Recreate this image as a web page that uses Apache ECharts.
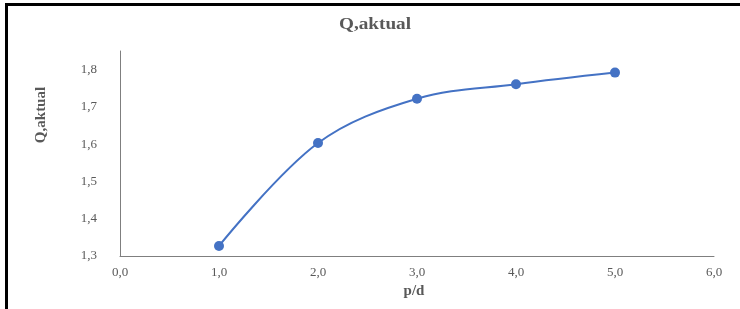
<!DOCTYPE html>
<html>
<head>
<meta charset="utf-8">
<script src="https://cdn.jsdelivr.net/npm/echarts@6/dist/echarts.min.js"></script>
<style>
  html, body { margin: 0; padding: 0; background: #fff; }
  #frame { position: absolute; left: 5px; top: 3px; width: 740px; height: 320px;
           border-left: 3px solid #000; border-top: 3px solid #000; box-sizing: border-box; }
  #chart { position: absolute; left: 0; top: 0; width: 740px; height: 309px; }
</style>
</head>
<body>
<div id="frame"></div>
<div id="chart"></div>
<script>
const xValues = [1.0, 2.0, 3.0, 4.0, 5.0];
const qAktual = [1.327, 1.603, 1.722, 1.761, 1.792];

const fmt = v => v.toFixed(1).replace(".", ",");
const serif = "'Liberation Serif', 'Times New Roman', serif";
const gray = "#595959";

const chart = echarts.init(document.getElementById("chart"), null, { renderer: "canvas" });
chart.setOption({
  animation: false,
  grid: { left: 120, right: 26, top: 51, bottom: 53 },
  xAxis: {
    type: "value", min: 0, max: 6, interval: 1,
    name: "p/d", nameLocation: "middle", nameGap: 28,
    nameTextStyle: { fontFamily: serif, fontSize: 15, fontWeight: "bold", color: gray, padding: [0, 0, 0, -6] },
    axisLine: { lineStyle: { color: "#7f7f7f", width: 1 } },
    axisTick: { show: false },
    splitLine: { show: false },
    axisLabel: { fontFamily: serif, fontSize: 13, color: gray, margin: 10, formatter: fmt }
  },
  yAxis: {
    type: "value", min: 1.3, max: 1.85, interval: 0.1,
    axisLine: { show: true, lineStyle: { color: "#7f7f7f", width: 1 } },
    axisTick: { show: false },
    splitLine: { show: false },
    axisLabel: {
      fontFamily: serif, fontSize: 13, color: gray, margin: 23,
      formatter: v => (Math.abs(v * 10 - Math.round(v * 10)) < 1e-6 && v < 1.81) ? fmt(v) : ""
    }
  },
  graphic: [
    {
      type: "text", x: 375, y: 25, scaleX: 1.2,
      style: { text: "Q,aktual", fontFamily: serif, fontSize: 16, fontWeight: "bold", fill: gray,
               align: "center", verticalAlign: "middle" }
    },
    {
      type: "text", x: 41, y: 115, rotation: Math.PI / 2,
      style: { text: "Q,aktual", fontFamily: serif, fontSize: 15, fontWeight: "bold", fill: gray,
               align: "center", verticalAlign: "middle" }
    }
  ],
  series: [{
    type: "line",
    data: xValues.map((x, i) => [x, qAktual[i]]),
    smooth: 0.35,
    symbol: "circle", symbolSize: 10,
    lineStyle: { color: "#4472c4", width: 2 },
    itemStyle: { color: "#4472c4" }
  }]
});
</script>
</body>
</html>
